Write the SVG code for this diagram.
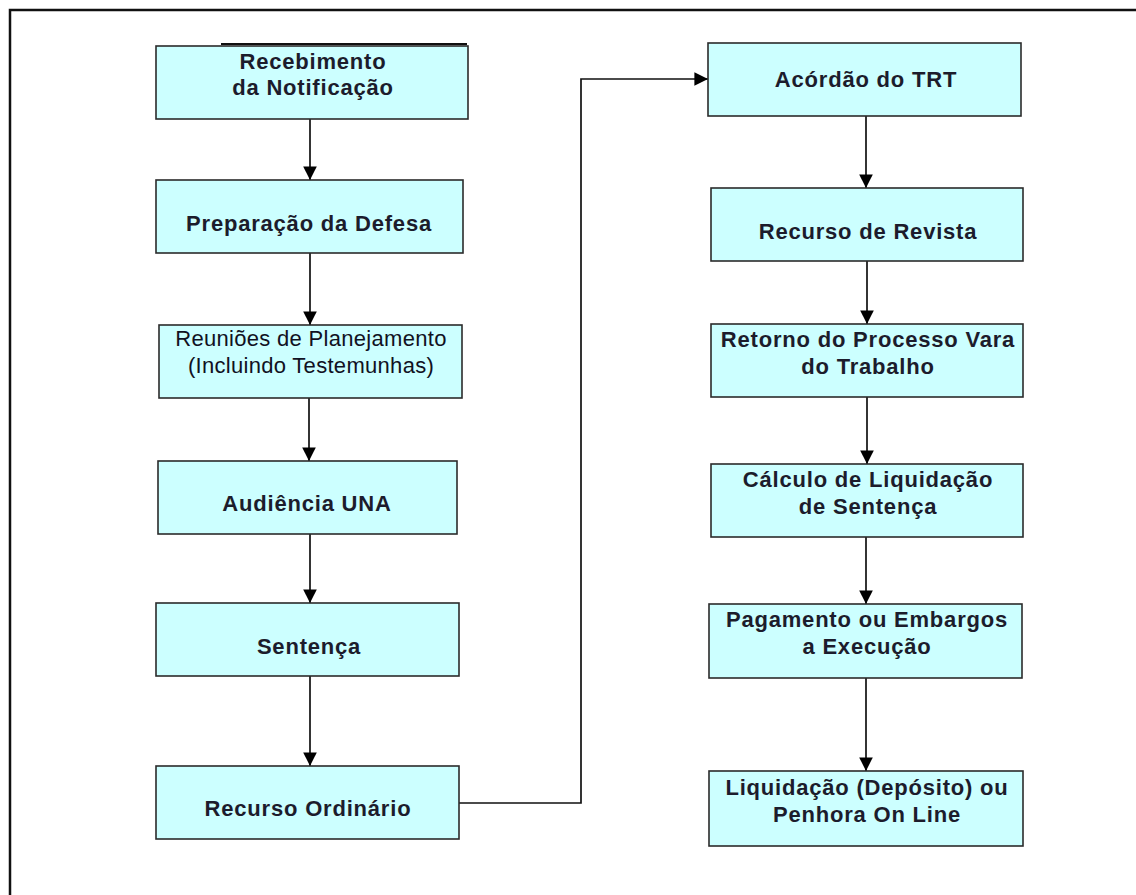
<svg xmlns="http://www.w3.org/2000/svg" width="1136" height="895" viewBox="0 0 1136 895">
<style>
.box{fill:#CCFFFF;stroke:#2b2b2b;stroke-width:1.6}
.t{font-family:"Liberation Sans",Arial,sans-serif;font-size:22px;font-weight:bold;letter-spacing:0.8px;fill:#1c1c2c;text-anchor:middle}
.r{font-weight:normal;letter-spacing:0.3px;fill:#111122}
.c{fill:none;stroke:#111;stroke-width:1.7}
</style>
<defs>
<marker id="ah" viewBox="0 0 10 10" refX="10" refY="5" markerWidth="8" markerHeight="8" orient="auto" markerUnits="strokeWidth">
<path d="M0,0 L10,5 L0,10 z" fill="#000"/>
</marker>
</defs>
<rect width="1136" height="895" fill="#fff"/>
<g id="frame"><path d="M10,895 V10 H1136" fill="none" stroke="#111" stroke-width="2.5"/></g>
<g id="connectors">
<path class="c" d="M310,119 V180" marker-end="url(#ah)"/>
<path class="c" d="M310,253 V325" marker-end="url(#ah)"/>
<path class="c" d="M309,398 V461" marker-end="url(#ah)" stroke="#555"/>
<path class="c" d="M310,534 V603" marker-end="url(#ah)"/>
<path class="c" d="M310,676 V766" marker-end="url(#ah)"/>
<path class="c" d="M459,803 H581 V79 H708" marker-end="url(#ah)"/>
<path class="c" d="M866,116 V188" marker-end="url(#ah)"/>
<path class="c" d="M867,261 V324" marker-end="url(#ah)"/>
<path class="c" d="M867,397 V464" marker-end="url(#ah)"/>
<path class="c" d="M866,537 V604" marker-end="url(#ah)" stroke="#555"/>
<path class="c" d="M866,678 V771" marker-end="url(#ah)" stroke="#555"/>
</g>
<g id="n1"><path d="M221,44 H467" stroke="#111" stroke-width="2"/><rect class="box" x="156" y="46" width="312" height="73"/><text class="t" x="313" y="69">Recebimento</text><text class="t" x="313" y="95">da Notificação</text></g>
<g id="n2"><rect class="box" x="156" y="180" width="307" height="73"/><text class="t" x="309" y="231">Preparação da Defesa</text></g>
<g id="n3"><rect class="box" x="159" y="325" width="303" height="73"/><text class="t r" x="311" y="346">Reuniões de Planejamento</text><text class="t r" x="311" y="373">(Incluindo Testemunhas)</text></g>
<g id="n4"><rect class="box" x="158" y="461" width="299" height="73"/><text class="t" x="307" y="511">Audiência UNA</text></g>
<g id="n5"><rect class="box" x="156" y="603" width="303" height="73"/><text class="t" x="309" y="654">Sentença</text></g>
<g id="n6"><rect class="box" x="156" y="766" width="303" height="73"/><text class="t" x="308" y="816">Recurso Ordinário</text></g>
<g id="n7"><rect class="box" x="708" y="43" width="313" height="73"/><text class="t" x="866" y="87">Acórdão do TRT</text></g>
<g id="n8"><rect class="box" x="711" y="188" width="312" height="73"/><text class="t" x="868" y="239">Recurso de Revista</text></g>
<g id="n9"><rect class="box" x="711" y="324" width="312" height="73"/><text class="t" x="868" y="347">Retorno do Processo Vara</text><text class="t" x="868" y="374">do Trabalho</text></g>
<g id="n10"><rect class="box" x="711" y="464" width="312" height="73"/><text class="t" x="868" y="487">Cálculo de Liquidação</text><text class="t" x="868" y="514">de Sentença</text></g>
<g id="n11"><rect class="box" x="709" y="604" width="313" height="74"/><text class="t" x="867" y="627">Pagamento ou Embargos</text><text class="t" x="867" y="654">a Execução</text></g>
<g id="n12"><rect class="box" x="709" y="771" width="314" height="75"/><text class="t" x="867" y="795">Liquidação (Depósito) ou</text><text class="t" x="867" y="822">Penhora On Line</text></g>
</svg>
